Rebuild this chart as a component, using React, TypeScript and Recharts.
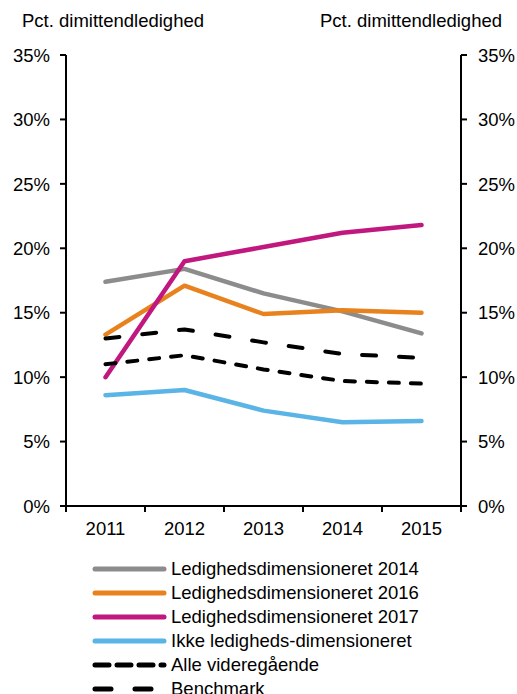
import React from "react"
import {
  LineChart,
  Line,
  XAxis,
  YAxis,
} from "recharts"

const years = [2011, 2012, 2013, 2014, 2015]
const ledig2014 = [17.4, 18.4, 16.5, 15.1, 13.4]
const ledig2016 = [13.3, 17.1, 14.9, 15.2, 15.0]
const ledig2017 = [10.0, 19.0, 20.1, 21.2, 21.8]
const ikkeLedig = [8.6, 9.0, 7.4, 6.5, 6.6]
const alleVideregaende = [11.0, 11.7, 10.6, 9.7, 9.5]
const benchmark = [13.0, 13.7, 12.7, 11.8, 11.5]

const yTicks = [0, 5, 10, 15, 20, 25, 30, 35]
const xBounds = [2010.5, 2011.5, 2012.5, 2013.5, 2014.5, 2015.5]
const axisTitle = "Pct. dimittendledighed"

const series = [
  { key: "l14", name: "Ledighedsdimensioneret 2014", color: "#8c8c8c", values: ledig2014, dash: undefined, legendDash: undefined },
  { key: "l16", name: "Ledighedsdimensioneret 2016", color: "#e8821e", values: ledig2016, dash: undefined, legendDash: undefined },
  { key: "l17", name: "Ledighedsdimensioneret 2017", color: "#c0187e", values: ledig2017, dash: undefined, legendDash: undefined },
  { key: "ikke", name: "Ikke ledigheds-dimensioneret", color: "#5ab4e5", values: ikkeLedig, dash: undefined, legendDash: undefined },
  { key: "alle", name: "Alle videregående", color: "#000000", values: alleVideregaende, dash: "10 12", legendDash: "14 8" },
  { key: "bench", name: "Benchmark", color: "#000000", values: benchmark, dash: "14 23", legendDash: "16 24" },
]

const data = years.map((year, i) => {
  const row: Record<string, number> = { year }
  series.forEach((s) => {
    row[s.key] = s.values[i]
  })
  return row
})

const font = "'Liberation Sans', Arial, sans-serif"
const fontSize = 18.5

// tick renderers: axis mark + label
const LeftTick = ({ x, y, payload }: any) => (
  <g>
    <line x1={x - 6} x2={x} y1={y} y2={y} stroke="#000" strokeWidth={2} />
    <text x={x - 16} y={y} dy="0.36em" textAnchor="end" fontSize={fontSize} fill="#000" fontFamily={font}>
      {payload.value}%
    </text>
  </g>
)

const RightTick = ({ x, y, payload }: any) => (
  <g>
    <line x1={x} x2={x + 6} y1={y} y2={y} stroke="#000" strokeWidth={2} />
    <text x={x + 17} y={y} dy="0.36em" textAnchor="start" fontSize={fontSize} fill="#000" fontFamily={font}>
      {payload.value}%
    </text>
  </g>
)

const BoundTick = ({ x, y }: any) => (
  <line x1={x} x2={x} y1={y} y2={y + 6} stroke="#000" strokeWidth={2} />
)

const YearTick = ({ x, y, payload }: any) => (
  <text x={x} y={y} dy="0.36em" textAnchor="middle" fontSize={fontSize} fill="#000" fontFamily={font}>
    {payload.value}
  </text>
)

export default function App() {
  return (
    <div style={{ position: "absolute", left: 0, top: 0, width: 517, height: 694, fontFamily: font, overflow: "hidden", background: "#fff" }}>
      <div style={{ position: "absolute", left: 22, top: 10, fontSize, whiteSpace: "nowrap" }}>{axisTitle}</div>
      <div style={{ position: "absolute", left: 320, top: 10, fontSize, whiteSpace: "nowrap" }}>{axisTitle}</div>
      <LineChart
        width={517}
        height={694}
        data={data}
        margin={{ top: 55, right: 0, left: 0, bottom: 153 }}
        style={{ position: "absolute", left: 0, top: 0 }}
      >
        <XAxis
          xAxisId="a_main"
          dataKey="year"
          type="number"
          domain={[2010.5, 2015.5]}
          ticks={xBounds}
          tick={<BoundTick />}
          height={6}
          tickSize={0}
          tickMargin={0}
          tickLine={false}
          axisLine={{ stroke: "#000", strokeWidth: 2 }}
        />
        <XAxis
          xAxisId="b_labels"
          dataKey="year"
          type="number"
          domain={[2010.5, 2015.5]}
          ticks={years}
          height={29}
          axisLine={false}
          tickLine={false}
          tickSize={0}
          tickMargin={16}
          tick={<YearTick />}
        />
        <YAxis
          yAxisId="left"
          domain={[0, 35]}
          ticks={yTicks}
          width={66}
          tickSize={0}
          tickMargin={0}
          tickLine={false}
          tick={<LeftTick />}
          axisLine={{ stroke: "#000", strokeWidth: 2 }}
        />
        <YAxis
          yAxisId="right"
          orientation="right"
          domain={[0, 35]}
          ticks={yTicks}
          width={56}
          tickSize={0}
          tickMargin={0}
          tickLine={false}
          tick={<RightTick />}
          axisLine={{ stroke: "#000", strokeWidth: 2 }}
        />
        {series.map((s) => (
          <Line
            key={s.key}
            xAxisId="a_main"
            yAxisId="left"
            type="linear"
            dataKey={s.key}
            name={s.name}
            stroke={s.color}
            strokeWidth={s.dash ? 4 : 4.5}
            strokeDasharray={s.dash}
            strokeLinecap="round"
            strokeLinejoin="round"
            dot={false}
            isAnimationActive={false}
          />
        ))}
        {/* invisible copy so the label axis and right axis have data */}
        <Line
          xAxisId="b_labels"
          yAxisId="right"
          dataKey="l14"
          stroke="none"
          dot={false}
          legendType="none"
          isAnimationActive={false}
        />
      </LineChart>
      <div style={{ position: "absolute", left: 91, top: 557 }}>
        {series.map((s) => (
          <div key={s.key} style={{ display: "flex", alignItems: "center", height: 24 }}>
            <svg width={76} height={10} style={{ display: "block" }}>
              <line
                x1={4}
                y1={5}
                x2={73}
                y2={5}
                stroke={s.color}
                strokeWidth={5}
                strokeLinecap="round"
                strokeDasharray={s.legendDash}
              />
            </svg>
            <span style={{ fontSize, marginLeft: 4, whiteSpace: "nowrap", lineHeight: "24px" }}>{s.name}</span>
          </div>
        ))}
      </div>
    </div>
  )
}
